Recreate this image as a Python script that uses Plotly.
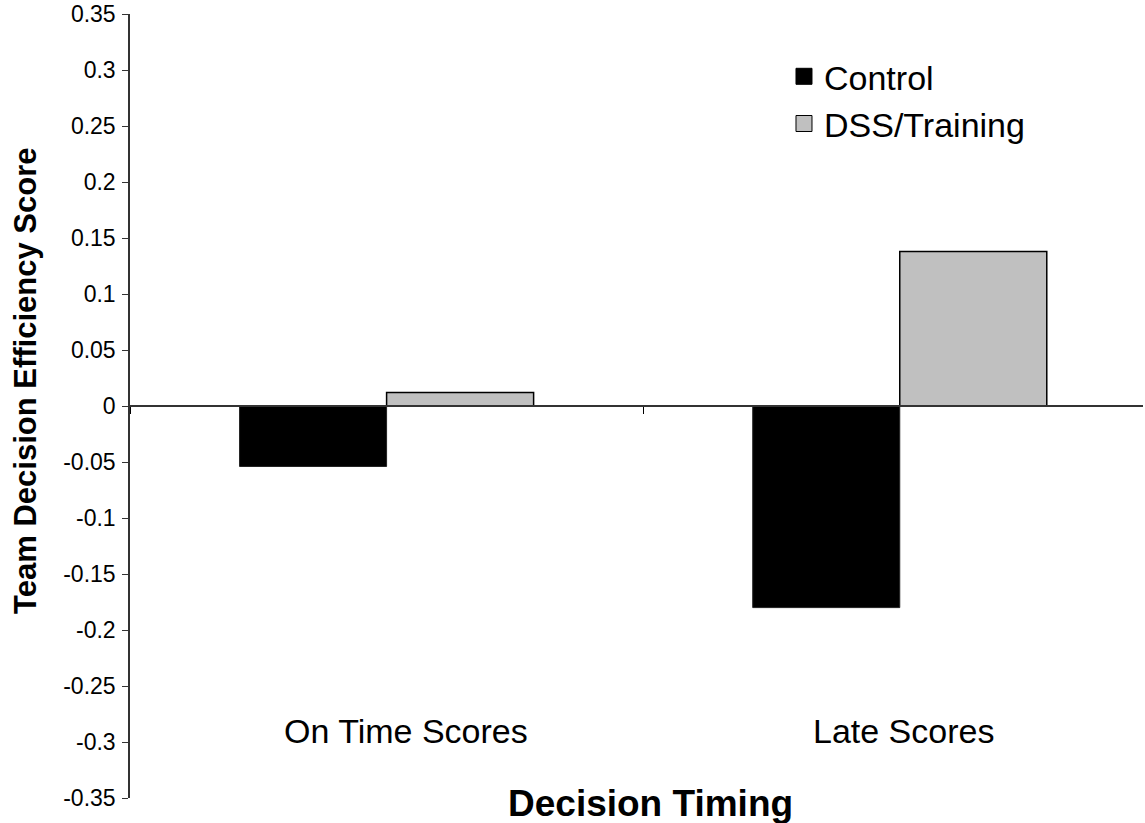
import plotly.graph_objects as go

categories = ["On Time Scores", "Late Scores"]
control = [-0.054, -0.180]
dss_training = [0.012, 0.138]
series_names = ["Control", "DSS/Training"]
y_ticks = [0.35, 0.3, 0.25, 0.2, 0.15, 0.1, 0.05, 0, -0.05, -0.1, -0.15, -0.2, -0.25, -0.3, -0.35]

FONT = "Liberation Sans, Arial, Helvetica, sans-serif"
LABEL_XSHIFT = [19, 4]

fig = go.Figure()
fig.add_trace(go.Bar(x=categories, y=control, name=series_names[0],
                     marker=dict(color="#000000", line=dict(color="#222222", width=1)),
                     showlegend=False))
fig.add_trace(go.Bar(x=categories, y=dss_training, name=series_names[1],
                     marker=dict(color="#C0C0C0", line=dict(color="#000000", width=1.5)),
                     showlegend=False))
# legend proxies
fig.add_trace(go.Scatter(x=[None], y=[None], mode="markers", name=series_names[0],
                         marker=dict(symbol="square", size=16, color="#000000",
                                     line=dict(color="#000000", width=1))))
fig.add_trace(go.Scatter(x=[None], y=[None], mode="markers", name=series_names[1],
                         marker=dict(symbol="square", size=16, color="#C0C0C0",
                                     line=dict(color="#000000", width=1))))

for c, xs in zip(categories, LABEL_XSHIFT):
    fig.add_annotation(x=c, y=-0.29, xref="x", yref="y", text=c, showarrow=False, xshift=xs,
                       font=dict(family=FONT, size=34, color="#000000"))

fig.add_annotation(x=0.5143, y=-0.0064, xref="paper", yref="paper", text="<b>Decision Timing</b>",
                   showarrow=False, xanchor="center", yanchor="middle",
                   font=dict(family=FONT, size=37, color="#000000"))
fig.add_annotation(x=-0.1027, y=0.532, xref="paper", yref="paper",
                   text="<b>Team Decision Efficiency Score</b>", textangle=-90,
                   showarrow=False, xanchor="center", yanchor="middle",
                   font=dict(family=FONT, size=31, color="#000000"))

fig.update_layout(
    width=1145, height=823,
    margin=dict(l=130, r=2, t=14, b=25),
    paper_bgcolor="white", plot_bgcolor="white",
    barmode="group", bargap=0.427, bargroupgap=0,
    font=dict(family=FONT, color="#000000"),
    legend=dict(x=0.6456, y=0.957, xanchor="left", yanchor="top",
                font=dict(family=FONT, size=34, color="#000000"),
                bgcolor="rgba(0,0,0,0)", tracegroupgap=0),
    xaxis=dict(type="category", range=[-0.5, 1.474], anchor="free", position=0.5,
               showline=True, linecolor="#333333", linewidth=1.5, automargin=False,
               ticks="outside", tickson="boundaries", ticklen=7, tickcolor="#000000",
               showticklabels=False, showgrid=False, zeroline=False),
    yaxis=dict(range=[-0.35, 0.35], tickvals=y_ticks, ticktext=[f"{v:g}" for v in y_ticks],
               showline=True, linecolor="#333333", linewidth=1.5, automargin=False,
               ticks="outside", ticklen=6, tickcolor="#333333", ticklabelstandoff=2,
               ticklabeloverflow="allow",
               tickfont=dict(family=FONT, size=23, color="#000000"),
               showgrid=False, zeroline=False),
)

fig.write_html("out.html", config={"displayModeBar": False},
               post_script="document.body.style.margin='0';")
